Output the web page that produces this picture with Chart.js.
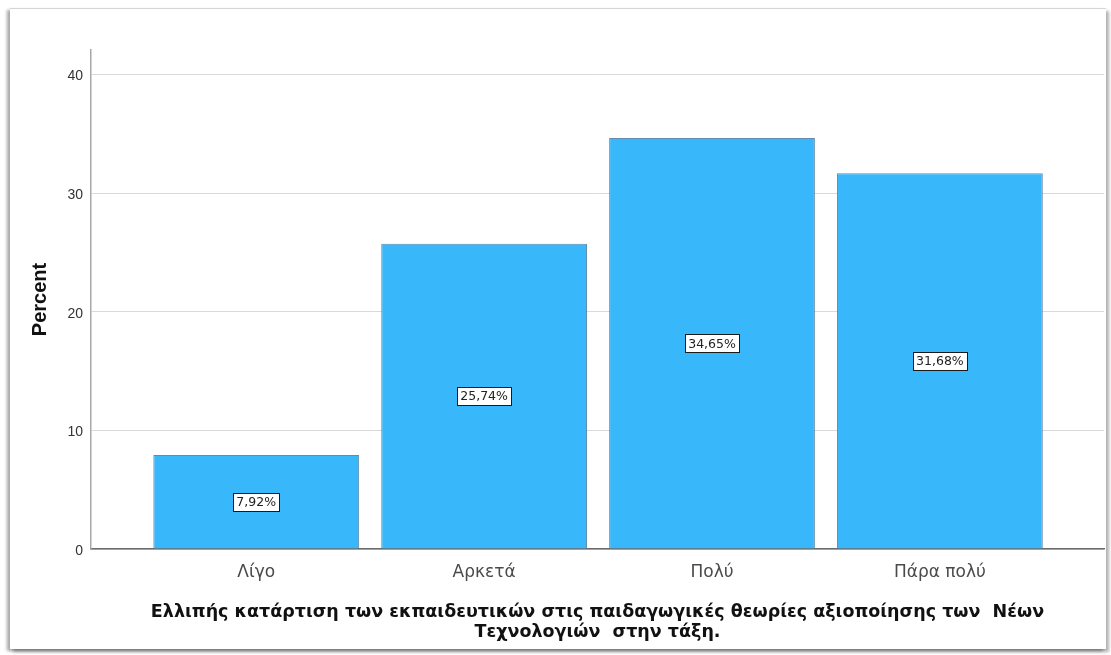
<!DOCTYPE html>
<html>
<head>
<meta charset="utf-8">
<script src="https://cdn.jsdelivr.net/npm/chart.js@4"></script>
<style>
  html, body { margin: 0; padding: 0; background: #fff; }
  #wrap { position: relative; width: 1111px; height: 655px; overflow: hidden; }
  #frame {
    position: absolute; left: 10px; top: 8px; width: 1096px; height: 640px;
    border-top: 1px solid #d4d4d4;
    box-shadow: -3px 2px 3px rgba(0,0,0,0.35), 3px 3px 3px rgba(0,0,0,0.30);
    background: #fff;
  }
  #c { position: absolute; left: 0; top: 0; }
</style>
</head>
<body>
<div id="wrap">
  <div id="frame"></div>
  <canvas id="c" width="1111" height="655"></canvas>
</div>
<script>
// Categories and percentages
const categories = ['Λίγο', 'Αρκετά', 'Πολύ', 'Πάρα πολύ'];
const percents = [7.92, 25.74, 34.65, 31.68];
const yTicks = [0, 10, 20, 30, 40];
const xTitle = ['Ελλιπής κατάρτιση των εκπαιδευτικών στις παιδαγωγικές θεωρίες αξιοποίησης των  Νέων',
                'Τεχνολογιών  στην τάξη.'];
const yTitle = 'Percent';

const SANS = "'Liberation Sans', Arial, sans-serif";
const WIDE = "'DejaVu Sans', Verdana, sans-serif";

// Boxed value labels in the middle of each bar
const valueLabels = {
  id: 'valueLabels',
  afterDatasetsDraw(chart) {
    const ctx = chart.ctx;
    const meta = chart.getDatasetMeta(0);
    ctx.save();
    ctx.font = '12.5px ' + WIDE;
    ctx.textAlign = 'center';
    ctx.textBaseline = 'middle';
    meta.data.forEach((bar, i) => {
      const txt = percents[i].toFixed(2).replace('.', ',') + '%';
      const cx = bar.x;
      const cy = (bar.y + bar.base) / 2;
      const w = Math.ceil(ctx.measureText(txt).width) + 6;
      const h = 18;
      const x0 = Math.round(cx - w / 2) + 0.5;
      const y0 = Math.round(cy - h / 2) + 0.5;
      ctx.fillStyle = '#ffffff';
      ctx.fillRect(x0, y0, w, h);
      ctx.strokeStyle = '#1a1a1a';
      ctx.lineWidth = 1;
      ctx.strokeRect(x0, y0, w, h);
      ctx.fillStyle = '#222222';
      ctx.fillText(txt, cx, cy + 1);
    });
    ctx.restore();
  }
};

new Chart(document.getElementById('c'), {
  type: 'bar',
  data: {
    datasets: [{
      data: percents.map((v, i) => ({ x: i + 1, y: v })),
      backgroundColor: '#39b7fb',
      borderColor: 'rgba(70,120,160,0.85)',
      borderWidth: 1,
      borderSkipped: 'bottom',
      categoryPercentage: 1,
      barPercentage: 0.903
    }]
  },
  options: {
    responsive: false,
    animation: false,
    events: [],
    layout: { padding: { left: 0, top: 50, right: 7, bottom: 0 } },
    plugins: { legend: { display: false }, tooltip: { enabled: false } },
    scales: {
      x: {
        type: 'linear',
        offset: false,
        min: 0.275,
        max: 4.72,
        afterBuildTicks: s => { s.ticks = categories.map((_, i) => ({ value: i + 1 })); },
        afterFit: s => { s.height = 106; },
        grid: { display: false, drawTicks: false, offset: false },
        border: { display: true, color: '#6b6b6b', width: 1.5 },
        ticks: {
          autoSkip: false,
          maxRotation: 0,
          padding: 13,
          color: '#4a4a4a',
          font: { family: WIDE, size: 17 },
          callback: v => categories[v - 1]
        },
        title: {
          display: true,
          text: xTitle,
          color: '#111',
          font: { family: WIDE, size: 17.5, weight: 'bold', lineHeight: '20px' },
          padding: { top: 0, bottom: 13 }
        }
      },
      y: {
        min: 0,
        max: 42.07,
        afterBuildTicks: s => { s.ticks = yTicks.map(v => ({ value: v })); },
        afterFit: s => { s.width = 91; },
        grid: { color: '#d9d9d9', drawTicks: false, lineWidth: 1 },
        border: { display: true, color: '#a8a8a8', width: 1.5 },
        ticks: {
          padding: 8,
          labelOffset: 2,
          color: '#333',
          font: { family: SANS, size: 14 }
        },
        title: {
          display: true,
          text: yTitle,
          color: '#111',
          font: { family: SANS, size: 20, weight: 'bold' },
          padding: { top: 28, bottom: 0 }
        }
      }
    }
  },
  plugins: [valueLabels]
});
</script>
</body>
</html>
